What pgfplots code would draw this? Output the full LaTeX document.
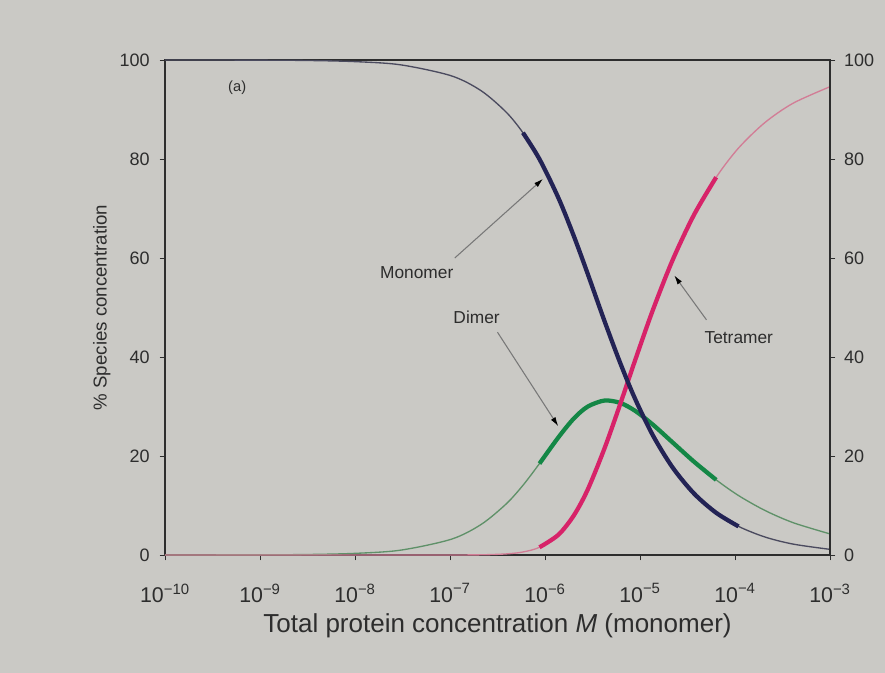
\documentclass[border=0pt]{standalone}
\usepackage{pgfplots}
\pgfplotsset{compat=1.18}
\usepackage{pgfplotstable}
\usetikzlibrary{arrows.meta}
\usepackage{fontspec}
\setmainfont{Liberation Sans}
\definecolor{bg}{RGB}{202,201,197}
\definecolor{mono}{RGB}{35,35,85}
\definecolor{monothin}{RGB}{75,75,95}
\definecolor{dim}{RGB}{20,135,70}
\definecolor{dimthin}{RGB}{95,145,105}
\definecolor{tet}{RGB}{215,35,105}
\definecolor{tetthin}{RGB}{210,125,150}
\definecolor{txt}{RGB}{45,45,45}
\definecolor{arr}{RGB}{120,120,120}

\pgfplotstableread{
e mono dimer tet
-10 100 0.003 0
-9 99.97 0.033 0
-8.5 99.9 0.1 0
-8 99.67 0.33 0
-7.519 99.02 0.98 0
-6.986 96.8 3.19 0.01
-6.671 93.77 6.19 0.04
-6.408 89.45 10.33 0.22
-6.232 85.3 14.08 0.61
-6.058 79.97 18.47 1.56
-5.858 72.1 23.79 4.10
-5.695 64.35 27.61 8.04
-5.550 56.78 29.98 13.23
-5.374 47.28 31.20 21.52
-5.208 38.78 30.72 30.50
-5.051 31.52 29.12 39.36
-4.865 24.19 26.34 49.47
-4.656 17.66 22.73 59.61
-4.431 12.41 18.84 68.74
-4.198 8.52 15.18 76.31
-3.963 5.78 12.01 82.21
-3.686 3.64 9.01 87.35
-3.388 2.20 6.53 91.27
-3.0 1.14 4.26 94.60
}\data

\begin{document}
\begin{tikzpicture}
\fill[bg] (-123.75pt,-88.5pt) rectangle (540pt,416.25pt);
\begin{axis}[
  at={(0,0)}, anchor=south west,
  width=498.75pt, height=371.25pt, scale only axis,
  xmin=-10, xmax=-3, ymin=0, ymax=100,
  axis line style={txt, line width=0.8pt},
  tick style={txt, line width=0.7pt},
  tick align=outside, major tick length=4pt,
  xtick={-10,-9,...,-3},
  xticklabels={10\textsuperscript{−10},10\textsuperscript{−9},10\textsuperscript{−8},10\textsuperscript{−7},10\textsuperscript{−6},10\textsuperscript{−5},10\textsuperscript{−4},10\textsuperscript{−3}},
  ytick={0,20,...,100},
  xtick pos=bottom, ytick pos=left,
  /pgf/number format/assume math mode=true,
  ticklabel style={font=\fontsize{13.5}{15}\selectfont, text=txt},
  xticklabel style={font=\fontsize{16}{18}\selectfont, yshift=-14pt},
  yticklabel style={xshift=-4pt},
  xlabel={Total protein concentration \textit{M} (monomer)},
  ylabel={\% Species concentration},
  label style={text=txt},
  xlabel style={font=\fontsize{19.5}{22}\selectfont, yshift=-1pt},
  ylabel style={font=\fontsize{14}{16}\selectfont, yshift=0pt},
  clip=false,
]
\addplot[monothin, line width=1pt, smooth] table[x=e, y=mono] {\data};
\addplot[dimthin, line width=1pt, smooth] table[x=e, y=dimer] {\data};
\addplot[tetthin, line width=1pt, smooth] table[x=e, y=tet] {\data};
\addplot[dim, line width=3.2pt, smooth, restrict x to domain=-6.1:-4.15] table[x=e, y=dimer] {\data};
\addplot[tet, line width=3.2pt, smooth, restrict x to domain=-6.1:-4.15] table[x=e, y=tet] {\data};
\addplot[mono, line width=3.2pt, smooth, restrict x to domain=-6.25:-3.95] table[x=e, y=mono] {\data};

\node[font=\fontsize{11}{13}\selectfont, text=txt] at (axis cs:-9.24,94.5) {(a)};
\node[font=\fontsize{13}{15}\selectfont, text=txt] at (axis cs:-7.35,57) {Monomer};
\draw[arr, line width=0.8pt, -{Latex[length=7pt,width=4pt,color=black]}] (axis cs:-6.95,60) -- (axis cs:-6.02,76);
\node[font=\fontsize{13}{15}\selectfont, text=txt] at (axis cs:-6.72,48) {Dimer};
\draw[arr, line width=0.8pt, -{Latex[length=7pt,width=4pt,color=black]}] (axis cs:-6.5,45) -- (axis cs:-5.86,26);
\node[font=\fontsize{13}{15}\selectfont, text=txt] at (axis cs:-3.96,44) {Tetramer};
\draw[arr, line width=0.8pt, -{Latex[length=7pt,width=4pt,color=black]}] (axis cs:-4.3,47.5) -- (axis cs:-4.64,56.5);
\end{axis}
\begin{axis}[
  at={(0,0)}, anchor=south west,
  width=498.75pt, height=371.25pt, scale only axis,
  xmin=-10, xmax=-3, ymin=0, ymax=100,
  axis x line=none, axis y line*=right,
  axis line style={txt, line width=0.8pt},
  tick style={txt, line width=0.7pt},
  tick align=outside, major tick length=4pt,
  ytick={0,20,...,100},
  /pgf/number format/assume math mode=true,
  ticklabel style={font=\fontsize{13.5}{15}\selectfont, text=txt},
  yticklabel style={xshift=3pt},
]
\end{axis}
\end{tikzpicture}
\end{document}
